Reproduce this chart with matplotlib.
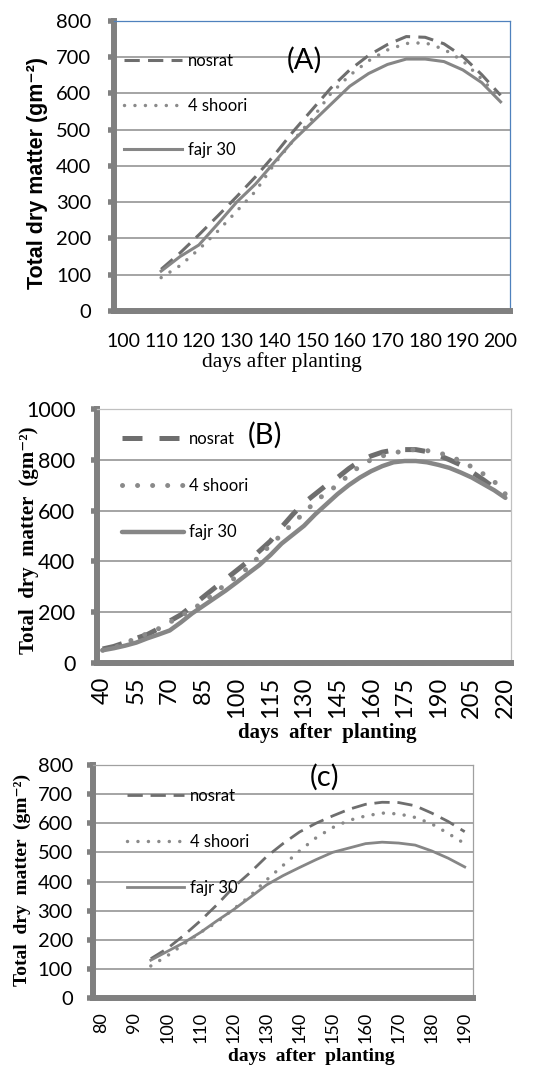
import numpy as np
import matplotlib.pyplot as plt

plt.rcParams['font.family'] = ['Lato', 'DejaVu Sans']

# (A) total dry matter, gm-2
days_a = [110, 115, 120, 125, 130, 135, 140, 145, 150, 155,
          160, 165, 170, 175, 180, 185, 190, 195, 200]
nosrat_a = [115, 160, 210, 262, 315, 370, 430, 495, 555, 615,
            665, 705, 735, 757, 755, 737, 702, 652, 595]
shoori_a = [92, 125, 170, 220, 275, 330, 405, 470, 530, 600,
            650, 690, 720, 738, 740, 722, 690, 640, 585]
fajr_a = [110, 150, 182, 240, 300, 350, 410, 470, 520, 570,
          620, 655, 680, 695, 695, 688, 665, 630, 577]
ticks_a = [100, 110, 120, 130, 140, 150, 160, 170, 180, 190, 200]

# (B)
days_b = list(range(40, 221, 5))
nosrat_b = [55, 65, 80, 97, 112, 135, 165, 190, 225, 260,
            295, 330, 365, 400, 440, 480, 535, 585, 630, 665,
            700, 730, 765, 795, 815, 830, 838, 840, 840, 832,
            818, 800, 780, 752, 722, 690, 655]
shoori_b = [50, 60, 75, 100, 115, 135, 160, 185, 210, 240,
            275, 310, 340, 375, 420, 465, 505, 550, 590, 635,
            670, 700, 740, 775, 800, 815, 825, 838, 840, 836,
            828, 815, 795, 772, 745, 715, 665]
fajr_b = [50, 58, 68, 80, 97, 112, 128, 160, 195, 225,
          255, 285, 318, 352, 385, 425, 470, 505, 540, 585,
          625, 665, 700, 730, 755, 775, 790, 795, 795, 790,
          780, 768, 750, 730, 705, 680, 650]
ticks_b = [40, 55, 70, 85, 100, 115, 130, 145, 160, 175, 190, 205, 220]

# (c)
days_c = list(range(95, 191, 5))
nosrat_c = [135, 170, 215, 265, 320, 380, 430, 485, 530, 570,
            600, 625, 648, 665, 672, 671, 660, 635, 606, 571]
shoori_c = [110, 145, 185, 225, 260, 305, 350, 405, 455, 505,
            550, 585, 610, 625, 635, 632, 620, 598, 565, 530]
fajr_c = [130, 160, 190, 225, 265, 303, 345, 388, 420, 448,
          475, 500, 515, 530, 535, 532, 525, 505, 480, 450]
ticks_c = [80, 90, 100, 110, 120, 130, 140, 150, 160, 170, 180, 190]

labels = ['nosrat', '4 shoori', 'fajr 30']
axis_grey = '#808080'
serif = ['Liberation Serif', 'DejaVu Serif']


def setup(ax, xlim, xticks, ymax, ystep, edge, rot, xsize, ysize, xpad, ypad):
    ax.set_xlim(*xlim)
    ax.set_ylim(0, ymax)
    ax.set_yticks(np.arange(0, ymax + 1, ystep))
    ax.set_xticks(xticks)
    ax.set_xticks(np.arange(xlim[0], xlim[1] + 0.1, 5), minor=True)
    ax.tick_params(axis='x', which='major', length=0, pad=xpad,
                   labelsize=xsize, labelrotation=rot)
    ax.tick_params(axis='x', which='minor', direction='out', length=2.5,
                   width=4, color=axis_grey)
    ax.tick_params(axis='y', direction='out', length=4.5, width=4,
                   color=axis_grey, pad=ypad, labelsize=ysize)
    ax.grid(axis='y', color='#8c8c8c', lw=1.1)
    ax.set_axisbelow(True)
    for s in ['left', 'bottom']:
        ax.spines[s].set_color(axis_grey)
        ax.spines[s].set_linewidth(4.3)
    for s in ['top', 'right']:
        ax.spines[s].set_color(edge)
        ax.spines[s].set_linewidth(0.9)


fig = plt.figure(figsize=(5.39, 10.65), dpi=100)

# ---- (A)
ax1 = fig.add_axes([0.2115, 0.708, 0.7347, 0.2723])
setup(ax1, (97.5, 202.5), ticks_a, 800, 100, '#4f81bd', 0, 14, 14.5, 16, 12)
ax1.plot(days_a, nosrat_a, color='#6e6e6e', lw=2.2, dashes=(5, 2.7))
ax1.plot(days_a, shoori_a, color='#8a8a8a', lw=2.5, dashes=(0.01, 3),
         dash_capstyle='round')
ax1.plot(days_a, fajr_a, color='#868686', lw=2.2, solid_joinstyle='round')
ax1.legend(labels, loc='upper left', bbox_to_anchor=(0.025, 0.89),
           frameon=False, fontsize=12, handlelength=3.5, handletextpad=0.35,
           labelspacing=1.72, borderpad=0, borderaxespad=0)
ax1.text(0.482, 0.866, '(A)', transform=ax1.transAxes, fontsize=21,
         ha='center', va='center')
ax1.set_ylabel('Total dry matter (gm⁻²)', family=['Liberation Sans', 'DejaVu Sans'],
               fontweight='bold', fontsize=15.5)
ax1.yaxis.set_label_coords(-0.166, 0.476)
ax1.set_xlabel('days after planting', family=serif, fontsize=15.5)
ax1.xaxis.set_label_coords(0.424, -0.143)

# ---- (B)
ax2 = fig.add_axes([0.18, 0.3775, 0.768, 0.2385])
setup(ax2, (37.5, 222.5), ticks_b, 1000, 200, '#c0c0c0', 90, 17, 15.5, 10, 11)
ax2.plot(days_b, nosrat_b, color='#6e6e6e', lw=3.6, dashes=(4, 3.4))
ax2.plot(days_b, shoori_b, color='#8a8a8a', lw=3.6, dashes=(0.01, 3),
         dash_capstyle='round')
ax2.plot(days_b, fajr_b, color='#868686', lw=3.2, solid_joinstyle='round',
         solid_capstyle='round')
ax2.legend(labels, loc='upper left', bbox_to_anchor=(0.06, 0.913),
           frameon=False, fontsize=12, handlelength=3.7, handletextpad=0.35,
           labelspacing=1.84, borderpad=0, borderaxespad=0)
ax2.text(0.406, 0.898, '(B)', transform=ax2.transAxes, fontsize=21,
         ha='center', va='center')
ax2.set_ylabel('Total  dry  matter  (gm⁻²)', family=serif,
               fontweight='bold', fontsize=15)
ax2.yaxis.set_label_coords(-0.14, 0.484)
ax2.set_xlabel('days  after  planting', family=serif,
               fontweight='bold', fontsize=15)
ax2.xaxis.set_label_coords(0.556, -0.236)

# ---- (c)
ax3 = fig.add_axes([0.1725, 0.0629, 0.705, 0.2188])
setup(ax3, (77.5, 192.5), ticks_c, 800, 100, '#a0a0a0', 90, 13, 14.5, 10, 10)
ax3.plot(days_c, nosrat_c, color='#6e6e6e', lw=2.0, dashes=(5.5, 2.8))
ax3.plot(days_c, shoori_c, color='#8a8a8a', lw=2.5, dashes=(0.01, 3),
         dash_capstyle='round')
ax3.plot(days_c, fajr_c, color='#868686', lw=2.0, solid_joinstyle='round')
ax3.legend(labels, loc='upper left', bbox_to_anchor=(0.09, 0.9),
           frameon=False, fontsize=12, handlelength=3.4, handletextpad=0.35,
           labelspacing=1.78, borderpad=0, borderaxespad=0)
ax3.text(0.61, 0.948, '(c)', transform=ax3.transAxes, fontsize=21,
         ha='center', va='center')
ax3.set_ylabel('Total  dry  matter  (gm⁻²)', family=serif,
               fontweight='bold', fontsize=14)
ax3.yaxis.set_label_coords(-0.163, 0.506)
ax3.set_xlabel('days  after  planting', family=serif,
               fontweight='bold', fontsize=14)
ax3.xaxis.set_label_coords(0.576, -0.215)

fig.savefig('out.png', dpi=100)
